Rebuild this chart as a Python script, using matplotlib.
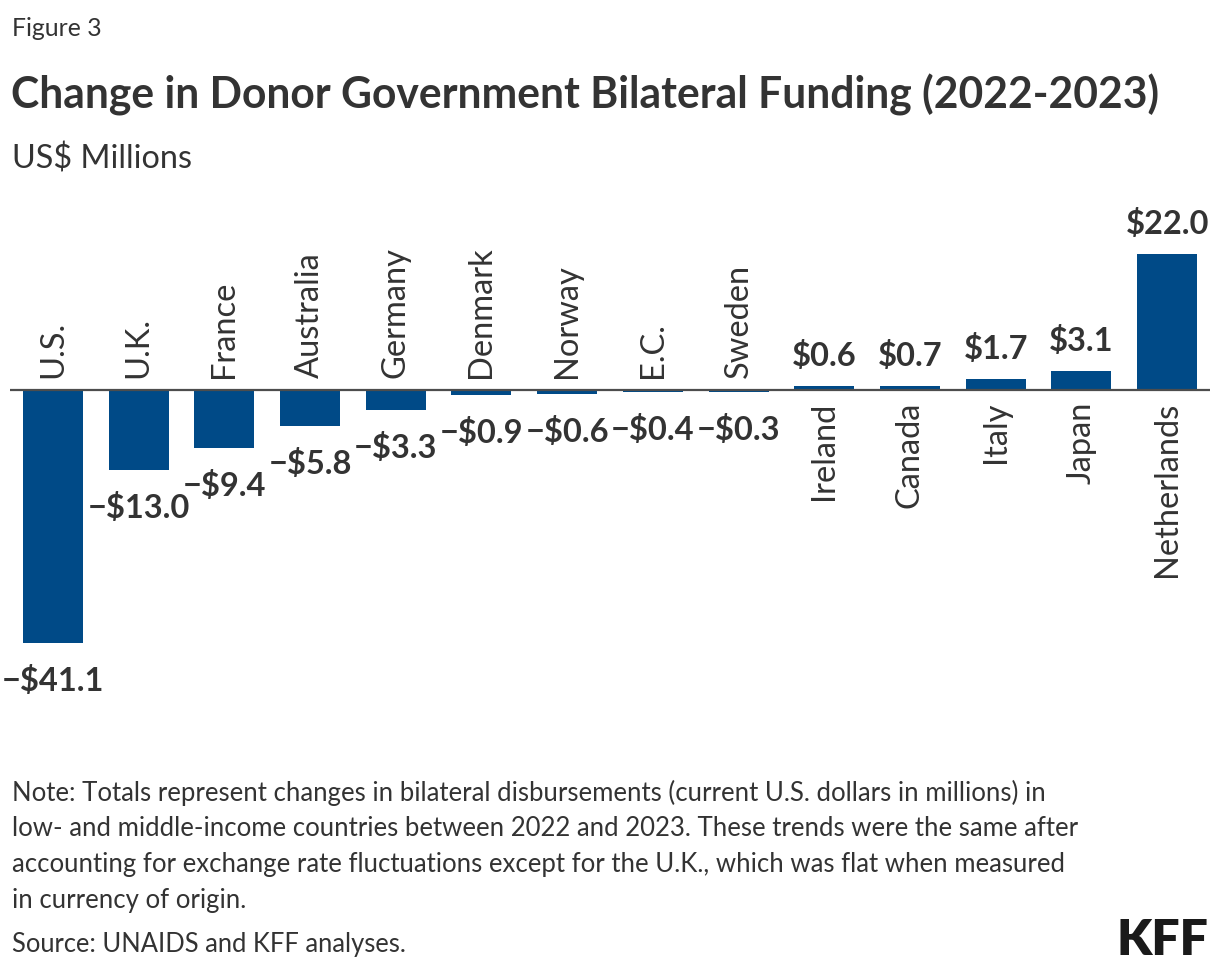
import matplotlib
matplotlib.use("Agg")
import matplotlib.pyplot as plt
from matplotlib.transforms import offset_copy

categories = ["U.S.", "U.K.", "France", "Australia", "Germany", "Denmark", "Norway",
              "E.C.", "Sweden", "Ireland", "Canada", "Italy", "Japan", "Netherlands"]
values = [-41.1, -13.0, -9.4, -5.8, -3.3, -0.9, -0.6, -0.4, -0.3, 0.6, 0.7, 1.7, 3.1, 22.0]

title = "Change in Donor Government Bilateral Funding (2022-2023)"
subtitle = "US$ Millions"
figlabel = "Figure 3"
note = ("Note: Totals represent changes in bilateral disbursements (current U.S. dollars in millions) in\n"
        "low- and middle-income countries between 2022 and 2023. These trends were the same after\n"
        "accounting for exchange rate fluctuations except for the U.K., which was flat when measured\n"
        "in currency of origin.")
source = "Source: UNAIDS and KFF analyses."

FONT = ["Lato", "DejaVu Sans"]
plt.rcParams['font.family'] = FONT
TXT = "#333333"
BAR = "#004A87"

W, H = 1220, 970
fig = plt.figure(figsize=(W / 100, H / 100), dpi=100)
fig.patch.set_facecolor("white")

def fx(px):
    return px / W

def fy(py):
    return 1 - py / H

# axes: zero at y=391, 6.16 px per unit, ylim (-50, 30)
ax = fig.add_axes([fx(10), fy(699), fx(1200), 493 / H])
ax.set_xlim(-0.5, len(categories) - 0.5)
ax.set_ylim(-50, 30)
ax.axis("off")

x = list(range(len(categories)))
ax.bar(x, values, width=0.7, color=BAR, zorder=2)
ax.axhline(0, color="#4d4d4d", lw=1.6, zorder=3)

def fmt(v):
    return ("\u2212$" if v < 0 else "$") + f"{abs(v):.1f}"

VAL_FS = 23.5
CAT_FS = 23.5
for i, (c, v) in enumerate(zip(categories, values)):
    if v < 0:
        tr = offset_copy(ax.transData, fig=fig, x=0, y=-47, units="dots")
        ax.text(i, v, fmt(v), transform=tr, ha="center", va="baseline",
                fontsize=VAL_FS, fontweight="bold", color=TXT)
        tr2 = offset_copy(ax.transData, fig=fig, x=0, y=13, units="dots")
        ax.text(i, 0, c, transform=tr2, ha="center", va="bottom", rotation=90,
                fontsize=CAT_FS, color=TXT)
    else:
        tr = offset_copy(ax.transData, fig=fig, x=0, y=21, units="dots")
        ax.text(i, v, fmt(v), transform=tr, ha="center", va="baseline",
                fontsize=VAL_FS, fontweight="bold", color=TXT)
        tr2 = offset_copy(ax.transData, fig=fig, x=0, y=-11, units="dots")
        ax.text(i, 0, c, transform=tr2, ha="center", va="top", rotation=90,
                fontsize=CAT_FS, color=TXT)

fig.text(fx(12), fy(36), figlabel, fontsize=17.8, color=TXT, va="baseline")
fig.text(fx(11), fy(108), title, fontsize=30.7, fontweight="bold", color=TXT, va="baseline")
fig.text(fx(12), fy(168), subtitle, fontsize=23.3, color=TXT, va="baseline")
fig.text(fx(12), fy(908), note, fontsize=18.5, color=TXT, va="baseline", linespacing=1.54)
fig.text(fx(12), fy(952), source, fontsize=18.4, color=TXT, va="baseline")
fig.text(fx(1208), fy(955), "KFF", fontsize=36, fontweight="heavy", color="#1a1a1a",
         ha="right", va="baseline")

fig.savefig("out.png", dpi=100, facecolor="white")
